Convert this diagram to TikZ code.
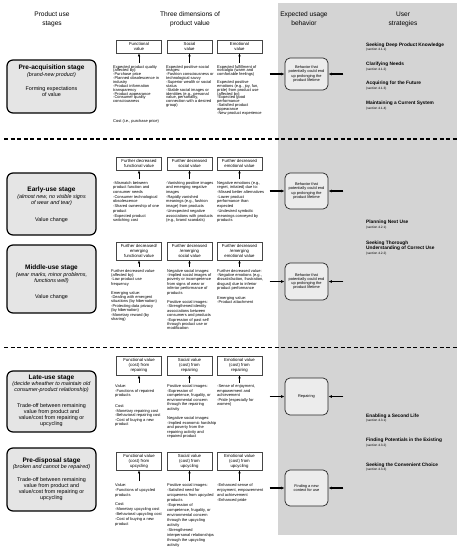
\documentclass[tikz,border=0pt]{standalone}
\usepackage{fontspec}
\setmainfont{Liberation Sans}
\usepackage{tikz}
\usetikzlibrary{arrows.meta, positioning, calc}
\definecolor{panelgray}{RGB}{212,212,212}
\definecolor{stagegray}{RGB}{229,229,229}
\definecolor{behavgray}{RGB}{236,236,236}
\definecolor{linegray}{RGB}{70,70,70}
\newcommand{\stagetitle}[1]{{\fontsize{6.5}{7}\selectfont\bfseries #1}}
\newcommand{\secnote}[1]{{\fontsize{3.2}{3.8}\selectfont\mdseries #1}}

\begin{document}
\begin{tikzpicture}[x=1pt, y=-1pt,
    head/.style={align=center, anchor=north, inner sep=0pt, font=\fontsize{6.6}{8.6}\selectfont},
    stage/.style={draw=black, line width=1.2pt, fill=stagegray, rounded corners=6pt,
        minimum width=89pt, inner sep=0pt},
    stagetxt/.style={align=center, anchor=north, inner sep=0pt, font=\fontsize{5.4}{5.9}\selectfont},
    valbox/.style={draw=linegray, line width=0.6pt, fill=white, minimum width=45pt,
        inner sep=0.8pt, align=center, font=\fontsize{4.3}{5}\selectfont},
    txt/.style={anchor=north west, align=left, inner sep=0pt,
        font={\fontsize{4}{#1}\selectfont\lineskiplimit=-4pt}},
    behav/.style={draw=black!85, line width=0.7pt, fill=behavgray, rounded corners=5pt,
        minimum width=43pt, inner sep=0pt, align=center, font=\fontsize{3.9}{4.2}\selectfont},
    strat/.style={anchor=north west, align=left, inner sep=0pt, font=\fontsize{4.8}{4.7}\selectfont\bfseries},
    varr/.style={-{Latex[length=3pt, width=2.6pt]}, line width=0.9pt, shorten <=2pt},
    harr/.style={-{Latex[length=3.6pt, width=3pt]}, line width=1.1pt},
    sep/.style={line width=1.1pt, dash pattern=on 4pt off 2.6pt}
]
\useasboundingbox (0,0) rectangle (460,550);
% grey panel and separators
\fill[panelgray] (278,3) rectangle (457,535);
\draw[sep] (4,139) -- (457,139);
\draw[sep] (4,347.5) -- (457,347.5);
% column headers
\node[head] (h1) at (52,11.8)  {Product use\\stages};
\node[head] (h2) at (190,11.8) {Three dimensions of\\product value};
\node[head] (h3) at (304,11.8) {Expected usage\\behavior};
\node[head] (h4) at (403,11.8) {User\\strategies};
% stages
\node[stage, minimum height=53pt] (pre) at (51.5,86.5) {};
\node[stagetxt] (pretxt) at (51.5,64.9) {\stagetitle{Pre-acquisition stage}\\[0.5pt]\textit{(brand-new product)}\\[8pt]Forming expectations\\of value};
\node[stage, minimum height=62pt] (early) at (51.5,204) {};
\node[stagetxt] (earlytxt) at (51.5,186.9) {\stagetitle{Early-use stage}\\[0.5pt]\textit{(almost new, no visible signs}\\\textit{of wear and tear)}\\[11pt]Value change};
\node[stage, minimum height=68pt] (mid) at (51.5,279) {};
\node[stagetxt] (midtxt) at (51.5,264.9) {\stagetitle{Middle-use stage}\\[0.5pt]\textit{(wear marks, minor problems,}\\\textit{functions well)}\\[10pt]Value change};
\node[stage, minimum height=61pt] (late) at (51.5,401.5) {};
\node[stagetxt] (latetxt) at (51.5,374.9) {\stagetitle{Late-use stage}\\[0.5pt]\textit{(decide wheather to maintain old}\\\textit{consumer-product relationship)}\\[10pt]Trade-off between remaining\\value from product and\\value/cost from repairing or\\upcycling};
\node[stage, minimum height=63pt] (disp) at (51.5,479.5) {};
\node[stagetxt] (disptxt) at (51.5,457.3) {\stagetitle{Pre-disposal stage}\\[0.5pt]\textit{(broken and cannot be repaired)}\\[7pt]Trade-off between remaining\\value from product and\\value/cost from repairing or\\upcycling};
% value boxes
\node[valbox, minimum height=13pt] (vpre1) at (139,46.5)   {Functional\\value};
\node[valbox, minimum height=13pt] (vpre2) at (189.5,46.5) {Social\\value};
\node[valbox, minimum height=13pt] (vpre3) at (239.5,46.5) {Emotional\\value};
\node[valbox, minimum height=13pt] (vearly1) at (139,163.5)   {Further decreased\\functional value};
\node[valbox, minimum height=13pt] (vearly2) at (189.5,163.5) {Further decreased\\social value};
\node[valbox, minimum height=13pt] (vearly3) at (239.5,163.5) {Further decreased\\emotional value};
\node[valbox, minimum height=18pt] (vmid1) at (139,251)   {Further decreased/\\emerging\\functional value};
\node[valbox, minimum height=18pt] (vmid2) at (189.5,251) {Further decreased\\/emerging\\social value};
\node[valbox, minimum height=18pt] (vmid3) at (239.5,251) {Further decreased\\/emerging\\emotional value};
\node[valbox, minimum height=19pt] (vlate1) at (139,365.5)   {Functional value\\(cost) from\\repairing};
\node[valbox, minimum height=19pt] (vlate2) at (189.5,365.5) {Social value\\(cost) from\\repairing};
\node[valbox, minimum height=19pt] (vlate3) at (239.5,365.5) {Emotional value\\(cost) from\\repairing};
\node[valbox, minimum height=18pt] (vdisp1) at (139,461)   {Functional value\\(cost) from\\upcycling};
\node[valbox, minimum height=18pt] (vdisp2) at (189.5,461) {Social value\\(cost) from\\upcycling};
\node[valbox, minimum height=18pt] (vdisp3) at (239.5,461) {Emotional value\\(cost) from\\upcycling};
% value texts
\node[txt=3.85] (tpre1) at (113,65) {Expected product quality\\(affected by):\\-Purchase price\\-Planned obsolescence in\\industry\\-Product information\\transparency\\-Product appearance\\-Consumer quality\\consciousness\\[15.5pt]Cost (i.e., purchase price)};
\node[txt=3.85] (tpre2) at (166,65) {Expected positive social\\images:\\-Fashion consciousness or\\technological savvy\\-Superior wealth or social\\status\\-Stable social images or\\identities (e.g., personal\\value, personality,\\connection with a desired\\group)};
\node[txt=3.85] (tpre3) at (217,65) {Expected fulfillment of\\nostalgia (warm and\\comfortable feelings)\\[3.85pt]Expected positive\\emotions (e.g., joy, fun,\\pride) from product use\\(affected by):\\-Expected good\\performance\\-Satisfied product\\appearance\\-New product experience};
\node[txt=4.7] (tearly1) at (113,181) {-Mismatch between\\product function and\\consumer needs\\-Consumer technological\\obsolescence\\-Shared ownership of one\\product\\-Expected product\\switching cost};
\node[txt=4.7] (tearly2) at (166,181) {-Vanishing positive images\\and emerging negative\\images\\-Rapidly vanished\\meanings (e.g., fashion\\image) from products\\-Unexpected negative\\associations with products\\(e.g., brand scandals)};
\node[txt=4.7] (tearly3) at (217,181) {Negative emotions (e.g.,\\regret, irritated) due to:\\-Missed better alternatives\\-Lower product\\performance than\\expected\\-Undesired symbolic\\meanings conveyed by\\products};
\node[txt=4.4] (tmid1) at (111,269) {Further decreased value\\(affected by):\\-Low product use\\frequency\\[4.4pt]Emerging value:\\-Dealing with emergent\\situations (by hibernation)\\-Protecting data privacy\\(by hibernation)\\-Monetary reward (by\\sharing)};
\node[txt=4.4] (tmid2) at (167,269) {Negative social images:\\-Implied social images of\\poverty or incompetence\\from signs of wear or\\inferior performance of\\products\\[5pt]Positive social images:\\-Strengthened identity\\associations between\\consumers and products\\-Expression of past self\\through product use or\\modification};
\node[txt=4.4] (tmid3) at (217,269) {Further decreased value:\\-Negative emotions (e.g.,\\dissatisfaction, frustration,\\disgust) due to inferior\\product performance\\[5pt]Emerging value:\\-Product attachment};
\node[txt=4.5] (tlate1) at (115,384.5) {Value:\\-Functions of repaired\\products\\[6.5pt]Cost:\\-Monetary repairing cost\\-Behavioral repairing cost\\-Cost of buying a new\\product};
\node[txt=4.5] (tlate2) at (167,384.5) {Positive social images:\\-Expression of\\competence, frugality, or\\environmental concern\\through the repairing\\activity\\[5pt]Negative social images:\\-Implied economic hardship\\and poverty from the\\repairing activity and\\repaired product};
\node[txt=4.5] (tlate3) at (217,384.5) {-Sense of enjoyment,\\empowerment and\\achievement\\-Pride (especially for\\women)};
\node[txt=5] (tdisp1) at (115,483.2) {Value:\\-Functions of upcycled\\products\\[4.5pt]Cost:\\-Monetary upcycling cost\\-Behavioral upcycling cost\\-Cost of buying a new\\product};
\node[txt=5] (tdisp2) at (167,483.2) {Positive social images:\\-Satisfied need for\\uniqueness from upcycled\\products\\-Expression of\\competence, frugality, or\\environmental concern\\through the upcycling\\activity\\-Strengthened\\interpersonal relationships\\through the upcycling\\activity};
\node[txt=5] (tdisp3) at (217,483.2) {-Enhanced sense of\\enjoyment, empowerment\\and achievement\\-Enhanced pride};
% expected usage behavior
\node[behav, minimum height=32pt] (bpre) at (306.5,74) {Behavior that\\potentially could end\\up prolonging the\\product lifetime};
\node[behav, minimum height=36pt] (bearly) at (306.5,191) {Behavior that\\potentially could end\\up prolonging the\\product lifetime};
\node[behav, minimum height=37pt] (bmid) at (306.5,281.5) {Behavior that\\potentially could end\\up prolonging the\\product lifetime};
\node[behav, minimum height=37pt] (blate) at (306.5,396.5) {Repairing};
\node[behav, minimum height=36pt] (bdisp) at (306.5,488) {Finding a new\\context for use};
% user strategies
\node[strat] (st1) at (366,42.6)  {Seeking Deep Product Knowledge\\\secnote{(section 4.1.1)}};
\node[strat] (st2) at (366,62.2)  {Clarifying Needs\\\secnote{(section 4.1.2)}};
\node[strat] (st3) at (366,81.2)  {Acquiring for the Future\\\secnote{(section 4.1.3)}};
\node[strat] (st4) at (366,101.2) {Maintaining a Current System\\\secnote{(section 4.1.4)}};
\node[strat] (st5) at (366,220)   {Planning Next Use\\\secnote{(section 4.2.1)}};
\node[strat] (st6) at (366,241)   {Seeking Thorough\\Understanding of Correct Use\\\secnote{(section 4.2.2)}};
\node[strat] (st7) at (366,413.5) {Enabling a Second Life\\\secnote{(section 4.3.1)}};
\node[strat] (st8) at (366,438)   {Finding Potentials in the Existing\\\secnote{(section 4.3.2)}};
\node[strat] (st9) at (366,462.5) {Seeking the Convenient Choice\\\secnote{(section 4.3.3)}};
% arrows
\foreach \r in {pre,early,mid,late,disp}
  \foreach \c in {1,2,3}
    \draw[varr] (t\r\c.north -| v\r\c.south) -- (v\r\c.south);
\foreach \b in {bpre,bearly,bmid,blate,bdisp} {
  \coordinate (\b l) at ([xshift=-15pt]\b.west);
  \coordinate (\b r) at ([xshift=15pt]\b.east);
  \draw[harr] (\b l) -- (\b.west);
  \draw[harr] (\b r) -- (\b.east);
}
\end{tikzpicture}
\end{document}
